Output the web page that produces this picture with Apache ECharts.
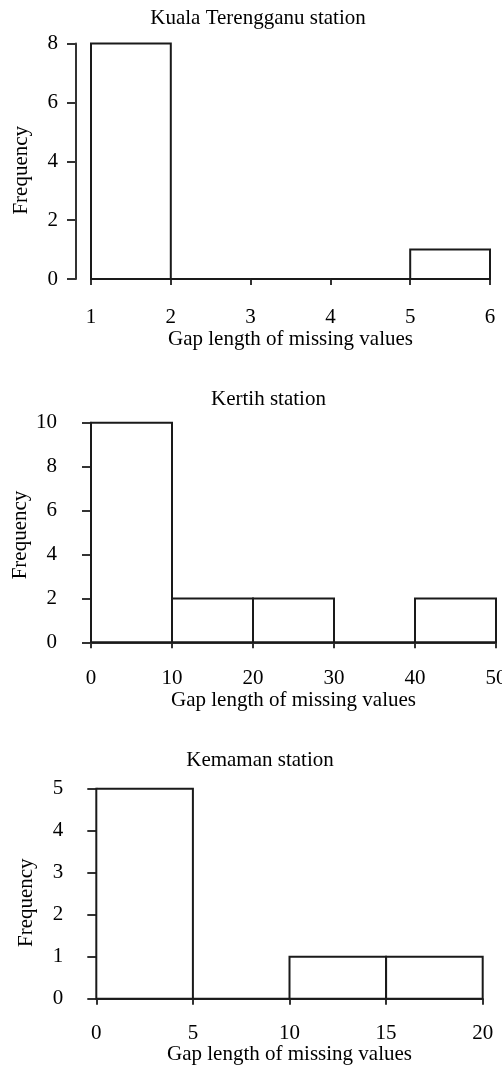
<!DOCTYPE html>
<html>
<head>
<meta charset="utf-8">
<script src="https://cdn.jsdelivr.net/npm/echarts@6/dist/echarts.min.js"></script>
<style>
html,body{margin:0;padding:0;background:#fff;}
#chart{width:502px;height:1067px;}
</style>
</head>
<body>
<div id="chart"></div>
<script>
// Data
const titles = ["Kuala Terengganu station", "Kertih station", "Kemaman station"];
const kualaEdges = [1, 2, 3, 4, 5, 6];
const kualaCounts = [8, 0, 0, 0, 1];
const kertihEdges = [0, 10, 20, 30, 40, 50];
const kertihCounts = [10, 2, 2, 0, 2];
const kemamanEdges = [0, 5, 10, 15, 20];
const kemamanCounts = [5, 0, 1, 1];
const xName = "Gap length of missing values";
const yName = "Frequency";

function bins(edges, counts) {
  return counts.map((c, i) => [edges[i], edges[i + 1], c]);
}

const FONT = "'Liberation Serif', 'DejaVu Serif', serif";
const FS = 21;
const AX = '#333';

const grids = [
  { left: 91, right: 12, top: 43.5, bottom: 788, outerBoundsMode: 'none' },
  { left: 91, right: 6, top: 422.7, bottom: 424.7, outerBoundsMode: 'none' },
  { left: 96.3, right: 19.3, top: 788.7, bottom: 68.3, outerBoundsMode: 'none' }
];
const xCfg = [
  { min: 1, max: 6, interval: 1, offset: 10, margin: 18, gap: 40 },
  { min: 0, max: 50, interval: 10, offset: 9.5, margin: 16, gap: 38 },
  { min: 0, max: 20, interval: 5, offset: 10, margin: 14, gap: 35 }
];
const yCfg = [
  { min: 0, max: 8, interval: 2, offset: 15, shift: 18 },
  { min: 0, max: 10, interval: 2, offset: 16, shift: 5 },
  { min: 0, max: 5, interval: 1, offset: 15, shift: 18 }
];
const titlePos = [
  { x: 258, y: 8 },
  { x: 268.5, y: 389 },
  { x: 260, y: 750 }
];
const seriesData = [
  bins(kualaEdges, kualaCounts),
  bins(kertihEdges, kertihCounts),
  bins(kemamanEdges, kemamanCounts)
];

const option = {
  backgroundColor: '#fff',
  animation: false,
  title: titles.map((t, i) => ({
    text: t,
    left: titlePos[i].x,
    top: titlePos[i].y,
    textAlign: 'center',
    padding: 0,
    textStyle: { fontFamily: FONT, fontSize: FS, fontWeight: 'normal', color: '#000' }
  })),
  grid: grids,
  xAxis: xCfg.map((c, i) => ({
    type: 'value',
    gridIndex: i,
    min: c.min, max: c.max, interval: c.interval,
    offset: c.offset,
    name: xName,
    nameLocation: 'middle',
    nameGap: c.gap,
    nameMoveOverlap: false,
    nameTextStyle: { fontFamily: FONT, fontSize: FS, color: '#000' },
    axisLine: { show: true, lineStyle: { color: AX, width: 2 } },
    axisTick: { show: true, length: 6, lineStyle: { color: AX, width: 2 } },
    axisLabel: { fontFamily: FONT, fontSize: FS, color: '#000', margin: c.margin, showMinLabel: true, showMaxLabel: true },
    splitLine: { show: false }
  })),
  yAxis: yCfg.map((c, i) => ({
    type: 'value',
    gridIndex: i,
    min: c.min, max: c.max, interval: c.interval,
    offset: c.offset,
    name: yName,
    nameLocation: 'middle',
    nameGap: 44,
    nameMoveOverlap: false,
    nameRotate: 90,
    nameTextStyle: { fontFamily: FONT, fontSize: FS, color: '#000', padding: [0, c.shift, 0, 0] },
    axisLine: { show: true, lineStyle: { color: AX, width: 2 } },
    axisTick: { show: true, length: 9, lineStyle: { color: AX, width: 2 } },
    axisLabel: { fontFamily: FONT, fontSize: FS, color: '#000', margin: 18 },
    splitLine: { show: false }
  })),
  series: seriesData.map((d, i) => ({
    type: 'custom',
    xAxisIndex: i,
    yAxisIndex: i,
    clip: false,
    data: d,
    encode: { x: [0, 1], y: 2 },
    renderItem: function (params, api) {
      const p0 = api.coord([api.value(0), 0]);
      const p1 = api.coord([api.value(1), api.value(2)]);
      return {
        type: 'rect',
        shape: { x: p0[0], y: p1[1], width: p1[0] - p0[0], height: p0[1] - p1[1] },
        style: { fill: '#fff', stroke: '#1a1a1a', lineWidth: 2 }
      };
    }
  }))
};

const chart = echarts.init(document.getElementById('chart'), null, { renderer: 'canvas' });
chart.setOption(option);
</script>
</body>
</html>
